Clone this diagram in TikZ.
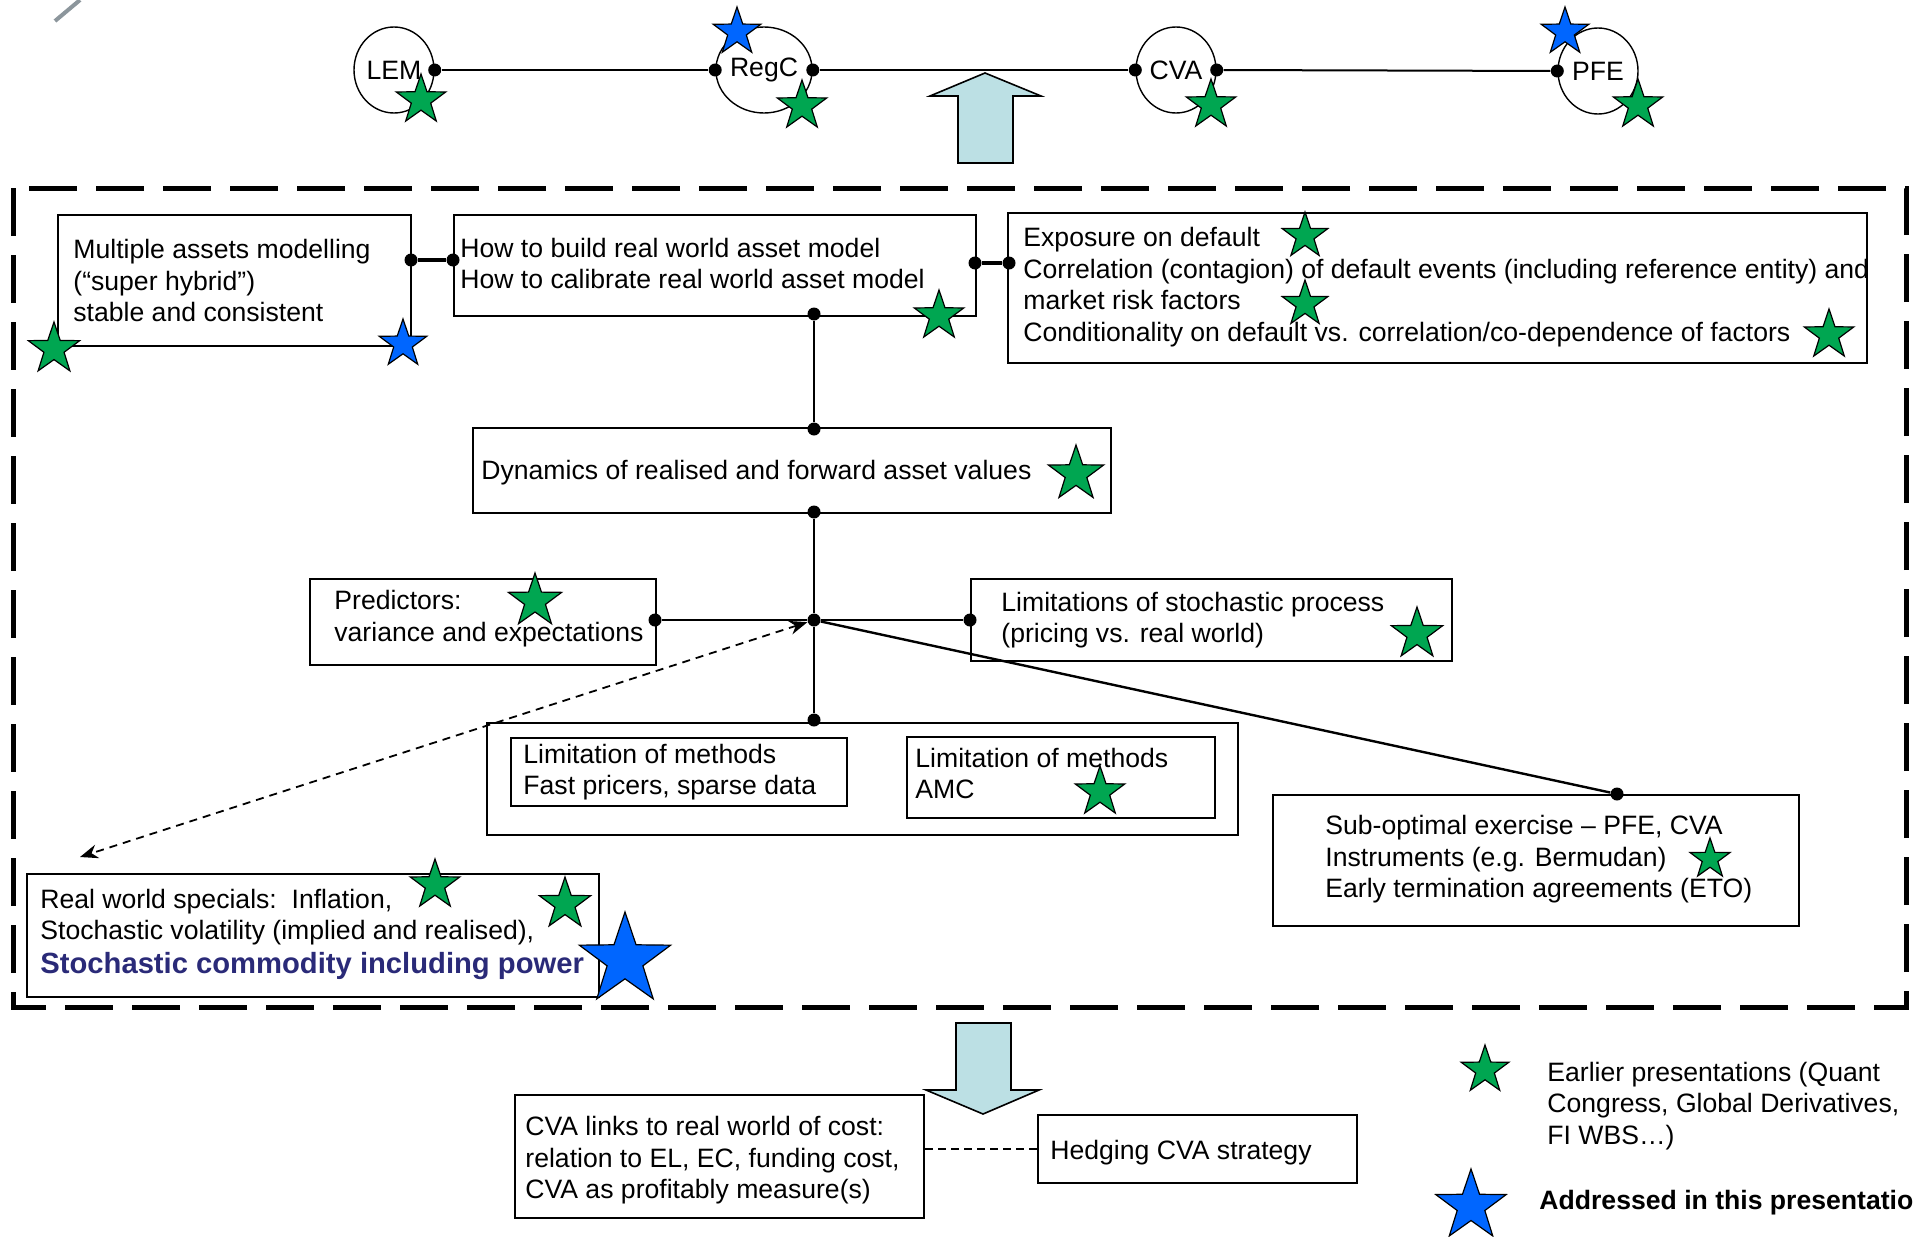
\documentclass[tikz,border=0pt]{standalone}
\usepackage{fontspec}
\setmainfont{Liberation Sans}
\usetikzlibrary{shapes.geometric,arrows.meta}
\definecolor{starg}{RGB}{0,166,81}
\definecolor{starb}{RGB}{0,102,255}
\definecolor{arrowfill}{RGB}{188,224,228}
\definecolor{navytext}{RGB}{42,42,120}
\definecolor{slashgray}{RGB}{140,150,156}
\tikzset{
 box/.style={draw, line width=1pt, anchor=north west, inner sep=0pt},
 txt/.style={inner sep=0pt, align=left, anchor=west},
 dot/.style={circle, fill=black, inner sep=0pt, minimum size=6.5pt},
 loopnode/.style={ellipse, draw, line width=0.7pt, minimum width=40pt, minimum height=43pt, inner sep=0pt},
 starshape/.style={star, star points=5, star point ratio=2.55, draw=black, line width=0.6pt, inner sep=0pt},
 gstar/.style={starshape, fill=starg, minimum size=#1},
 gstar/.default=26pt,
 bstar/.style={starshape, fill=starb, minimum size=#1},
 bstar/.default=25pt,
 conn/.style={line width=1pt},
 thickconn/.style={line width=1.6pt},
 frame/.style={line width=2.5pt, dash pattern=on 24pt off 9.5pt},
 blockarrow/.style={draw, line width=0.8pt, fill=arrowfill, line join=miter},
}
\begin{document}
\begin{tikzpicture}[x=0.5pt, y=-0.5pt, every node/.style={font=\fontsize{13.3}{15.8}\selectfont}]
\useasboundingbox (0,0) rectangle (1914,1236);
\fill[white] (0,0) rectangle (1914,1236);

% stray gray slash
\draw[slashgray, line width=2pt] (55,21) -- (80,0);

% ---- top row ----
\node[loopnode] (lem) at (394,70) {LEM};
\node[loopnode] (regc) at (764,70) {RegC};
\node[loopnode] (cva) at (1176,70) {CVA};
\node[loopnode] (pfe) at (1598,71) {PFE};
\node[dot] (dlem) at (lem.east) {};
\node[dot] (dregl) at (regc.west) {};
\node[dot] (dregr) at (regc.east) {};
\node[dot] (dcval) at (cva.west) {};
\node[dot] (dcvar) at (cva.east) {};
\node[dot] (dpfel) at (pfe.west) {};
\draw[conn] (dlem) -- (dregl);
\draw[conn] (dregr) -- (dcval);
\draw[conn] (dcvar) -- (dpfel);

% up arrow
\draw[blockarrow] (985,73) -- (1041,96) -- (1013,96) -- (1013,163) -- (958,163) -- (958,96) -- (930,96) -- cycle;

% dashed frame
\draw[frame] (13,188) rectangle (1906,1007);

% ---- boxes ----
\node[box, minimum width=176.5pt, minimum height=65.5pt] (b1) at (57,214) {};
\node[txt] (t1) at ([xshift=8pt]b1.west) {Multiple assets modelling\\(“super hybrid”)\\stable and consistent};

\node[box, minimum width=261pt, minimum height=50.5pt] (b2) at (453,214) {};
\node[txt] (t2) at ([xshift=3.5pt,yshift=1pt]b2.west) {How to build real world asset model\\How to calibrate real world asset model};

\node[box, minimum width=429.5pt, minimum height=75pt] (b3) at (1007,212) {};
\node[txt] (t3) at ([xshift=8pt,yshift=0.5pt]b3.west) {Exposure on default\\Correlation (contagion) of default events (including reference entity) and\\market risk factors\\Conditionality on default vs. correlation/co-dependence of factors};

\node[box, minimum width=319pt, minimum height=42.5pt] (b4) at (472,427) {};
\node[txt] (t4) at ([xshift=4.5pt,yshift=-1pt]b4.west) {Dynamics of realised and forward asset values};

\node[box, minimum width=173pt, minimum height=43pt] (b5) at (309,578) {};
\node[txt] (t5) at ([xshift=12.5pt,yshift=1.75pt]b5.west) {Predictors:\\variance and expectations};

\node[box, minimum width=240.5pt, minimum height=41pt] (b6) at (970,578) {};
\node[txt] (t6) at ([xshift=15.5pt]b6.west) {Limitations of stochastic process\\(pricing vs. real world)};

\node[box, minimum width=375.5pt, minimum height=56pt] (b7) at (486,722) {};
\node[box, minimum width=168pt, minimum height=34pt] (b7a) at (510,737) {};
\node[txt] (t7a) at ([xshift=6.5pt]b7a.west) {Limitation of methods\\Fast pricers, sparse data};
\node[box, minimum width=154pt, minimum height=40.5pt] (b7b) at (906,736) {};
\node[txt] (t7b) at ([xshift=4.5pt,yshift=2pt]b7b.west) {Limitation of methods\\AMC};

\node[box, minimum width=263pt, minimum height=65.5pt] (b8) at (1272,794) {};
\node[txt] (t8) at ([xshift=26.5pt,yshift=0.5pt]b8.west) {Sub-optimal exercise – PFE, CVA\\Instruments (e.g. Bermudan)\\Early termination agreements (ETO)};

\node[box, minimum width=286pt, minimum height=61.5pt] (b9) at (26,873) {};
\node[txt] (t9) at ([xshift=7pt,yshift=0.5pt]b9.west) {Real world specials:\ \ Inflation,\\Stochastic volatility (implied and realised),\\[1.2pt]{\fontsize{14.6}{17}\selectfont\bfseries\color{navytext}Stochastic commodity including power}};

% down arrow
\draw[blockarrow] (956,1023) -- (1011,1023) -- (1011,1090) -- (1039,1090) -- (983,1114) -- (926,1090) -- (956,1090) -- cycle;

\node[box, minimum width=204.5pt, minimum height=61.5pt] (b10) at (514,1094) {};
\node[txt] (t10) at ([xshift=5.5pt,yshift=-2pt]b10.west) {CVA links to real world of cost:\\relation to EL, EC, funding cost,\\CVA as profitably measure(s)};

\node[box, minimum width=159.5pt, minimum height=34pt] (b11) at (1037,1114) {};
\node[txt] (t11) at ([xshift=6.5pt,yshift=-2pt]b11.west) {Hedging CVA strategy};

\draw[line width=0.8pt, dash pattern=on 4pt off 2.5pt] (b10.east |- b11.west) -- (b11.west);

% ---- connector dots ----
\node[dot] (d1r) at (411,260) {};
\node[dot] (d2l) at (453,260) {};
\node[dot] (d2r) at (975,263) {};
\node[dot] (d3l) at (1009,263) {};
\node[dot] (d2b) at (814,314) {};
\node[dot] (d4t) at (814,429) {};
\node[dot] (d4b) at (814,512) {};
\node[dot] (hub) at (814,620) {};
\node[dot] (dpr) at (655,620) {};
\node[dot] (dlim) at (970,620) {};
\node[dot] (dmt) at (814,720) {};
\node[dot] (dsub) at (1617,794) {};
\coordinate (rwend) at (80,857);

\draw[thickconn] (d1r) -- (d2l);
\draw[thickconn] (d2r) -- (d3l);
\draw[conn] (d2b) -- (d4t);
\draw[conn] (d4b) -- (hub);
\draw[conn] (hub) -- (dmt);
\draw[conn, line width=1.2pt] (dpr) -- (hub);
\draw[conn, line width=1.2pt] (hub) -- (dlim);
\draw[conn, line width=1.2pt] (hub) -- (dsub);
\draw[line width=0.9pt, dash pattern=on 4pt off 3pt, {Stealth[length=9pt,width=7pt]}-{Stealth[length=9pt,width=7pt]}] (hub) -- (rwend);

% ---- stars ----
\node[gstar] (sLEM) at (421,100) {};
\node[bstar] (sRegB) at (737,32) {};
\node[gstar] (sRegG) at (802,106) {};
\node[gstar] (sCVA) at (1211,105) {};
\node[bstar] (sPFEB) at (1565,32) {};
\node[gstar] (sPFEG) at (1638,105) {};
\node[gstar=27pt] (s1a) at (54,349) {};
\node[bstar=25pt] (s1b) at (403,344) {};
\node[gstar] (s2) at (939,316) {};
\node[gstar=24pt] (s3a) at (1305,236) {};
\node[gstar=24pt] (s3b) at (1305,304) {};
\node[gstar] (s3c) at (1829,335) {};
\node[gstar=29pt] (s4) at (1076,474) {};
\node[gstar=28pt] (s5) at (535,601) {};
\node[gstar=27pt] (s6) at (1417,634) {};
\node[gstar] (s7) at (1100,792) {};
\node[gstar=21pt] (s8) at (1710,859) {};
\node[gstar] (s9a) at (435,885) {};
\node[gstar=27pt] (s9b) at (565,904) {};
\node[bstar=48pt] (s9c) at (625,960) {};

% ---- legend ----
\node[gstar=25pt] (lg) at (1485,1070) {};
\node[bstar=37pt] (lb) at (1471,1206) {};
\node[txt] (lgt) at (1547,1106) {Earlier presentations (Quant\\Congress, Global Derivatives,\\FI WBS…)};
\node[txt, font=\fontsize{13.3}{15.8}\selectfont\bfseries] (lbt) at (1539,1203) {Addressed in this presentatio};
\end{tikzpicture}
\end{document}
